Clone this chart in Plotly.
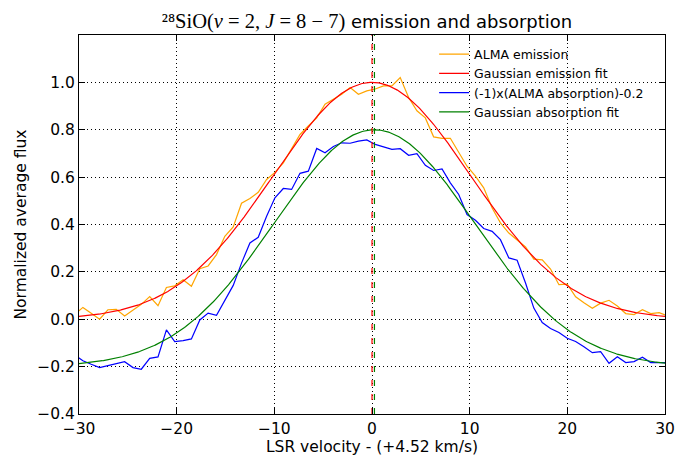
import numpy as np
import plotly.graph_objects as go

# Channel velocities (km/s, relative to +4.52 km/s)
velocity = [-30.46, -29.60, -28.75, -27.89, -27.04, -26.18, -25.33, -24.47, -23.62, -22.76,
            -21.91, -21.05, -20.20, -19.34, -18.49, -17.63, -16.78, -15.92, -15.07, -14.21,
            -13.36, -12.50, -11.65, -10.79, -9.94, -9.08, -8.23, -7.37, -6.52, -5.66,
            -4.81, -3.95, -3.10, -2.24, -1.39, -0.53, 0.33, 1.18, 2.04, 2.89,
            3.75, 4.60, 5.46, 6.31, 7.17, 8.02, 8.88, 9.73, 10.59, 11.44,
            12.30, 13.15, 14.01, 14.86, 15.72, 16.57, 17.43, 18.28, 19.14, 19.99,
            20.85, 21.70, 22.56, 23.41, 24.27, 25.12, 25.98, 26.83, 27.69, 28.54,
            29.40, 30.25]

alma_emission = [0.02, 0.05, 0.025, 0.0, 0.04, 0.042, 0.014, 0.04, 0.063, 0.096,
                 0.057, 0.134, 0.141, 0.167, 0.139, 0.213, 0.225, 0.273, 0.35, 0.39,
                 0.49, 0.51, 0.536, 0.59, 0.62, 0.66, 0.717, 0.78, 0.816, 0.85,
                 0.908, 0.93, 0.95, 0.978, 0.95, 0.964, 0.972, 0.985, 0.985, 1.02,
                 0.936, 0.88, 0.85, 0.77, 0.764, 0.764, 0.703, 0.646, 0.604, 0.555,
                 0.47, 0.407, 0.364, 0.336, 0.305, 0.254, 0.251, 0.212, 0.146, 0.148,
                 0.095, 0.07, 0.046, 0.068, 0.08, 0.056, 0.024, 0.02, 0.04, 0.024,
                 0.028, 0.015]

alma_absorption_inv = [-0.15, -0.175, -0.19, -0.204, -0.196, -0.186, -0.179, -0.204, -0.211, -0.165,
                       -0.159, -0.045, -0.094, -0.09, -0.083, -0.003, 0.026, 0.017, 0.082, 0.143,
                       0.237, 0.322, 0.346, 0.435, 0.513, 0.552, 0.548, 0.616, 0.625, 0.721,
                       0.703, 0.729, 0.745, 0.743, 0.752, 0.757, 0.738, 0.728, 0.717, 0.72,
                       0.692, 0.699, 0.65, 0.628, 0.635, 0.576, 0.527, 0.442, 0.418, 0.383,
                       0.371, 0.336, 0.259, 0.249, 0.153, 0.047, -0.014, -0.039, -0.056, -0.08,
                       -0.094, -0.116, -0.141, -0.137, -0.186, -0.158, -0.183, -0.179, -0.16, -0.183,
                       -0.182, -0.183]

# Gaussian fit parameters: amplitude, centre, sigma, baseline
em_amp, em_cen, em_sig, em_base = 1.0, 0.0, 10.1, 0.0
ab_amp, ab_cen, ab_sig, ab_base = 1.0, 0.25, 10.25, -0.2

x_ticks = [-30, -20, -10, 0, 10, 20, 30]
y_ticks = [-0.4, -0.2, 0.0, 0.2, 0.4, 0.6, 0.8, 1.0]

v_fit = np.linspace(-30, 30, 601)
em_fit = em_base + em_amp * np.exp(-(v_fit - em_cen) ** 2 / (2 * em_sig ** 2))
ab_fit = ab_base + ab_amp * np.exp(-(v_fit - ab_cen) ** 2 / (2 * ab_sig ** 2))

LW = 1.2
fig = go.Figure()
fig.add_trace(go.Scatter(x=velocity, y=alma_emission, mode="lines", name="ALMA emission",
                         line=dict(color="orange", width=LW)))
fig.add_trace(go.Scatter(x=v_fit, y=em_fit, mode="lines", name="Gaussian emission fit",
                         line=dict(color="red", width=LW)))
fig.add_trace(go.Scatter(x=velocity, y=alma_absorption_inv, mode="lines",
                         name="(-1)x(ALMA absorption)-0.2", line=dict(color="blue", width=LW)))
fig.add_trace(go.Scatter(x=v_fit, y=ab_fit, mode="lines", name="Gaussian absorption fit",
                         line=dict(color="green", width=LW)))
fig.add_trace(go.Scatter(x=[em_cen, em_cen], y=[-0.4, 1.2], mode="lines", showlegend=False,
                         line=dict(color="red", width=LW, dash="6px,8px")))
fig.add_trace(go.Scatter(x=[ab_cen, ab_cen], y=[-0.4, 1.2], mode="lines", showlegend=False,
                         line=dict(color="green", width=LW, dash="6px,8px")))

axis_common = dict(
    showline=True, linecolor="black", linewidth=1, mirror="allticks",
    ticks="inside", ticklen=6, tickcolor="black", tickwidth=1,
    showgrid=True, gridcolor="black", gridwidth=1, griddash="1px,3px",
    zeroline=False, automargin=False,
    tickfont=dict(family="DejaVu Sans", size=15.5, color="black"),
    title_font=dict(family="DejaVu Sans", size=15.5, color="black"),
)

# The page places the figure 8px in from the top-left corner of the window.
W, H = 678, 448
fig.update_layout(
    width=W, height=H,
    margin=dict(l=71, r=21, t=27, b=42),
    paper_bgcolor="white", plot_bgcolor="white",
    title=dict(
        text="<span style=\"font-family:Liberation Serif;font-size:20.5px\">²⁸SiO(<i>v</i> = 2, <i>J</i> = 8 − 7)</span> emission and absorption",
        x=359 / W, xanchor="center", y=1 - 14 / H, yanchor="middle", automargin=False,
        font=dict(family="DejaVu Sans", size=18, color="black")),
    xaxis=dict(range=[-30, 30], tickvals=x_ticks,
               title=dict(text="LSR velocity - (+4.52 km/s)", standoff=4), **axis_common),
    yaxis=dict(range=[-0.4, 1.2], tickvals=y_ticks, tickformat=".1f",
               title=dict(text="Normalized average flux", standoff=6), **axis_common),
    legend=dict(x=0.606, y=0.988, xanchor="left", yanchor="top", bgcolor="rgba(0,0,0,0)",
                borderwidth=0, font=dict(family="DejaVu Sans", size=12.5, color="black"),
                tracegroupgap=0),
    showlegend=True,
)

fig.write_html("out.html")
